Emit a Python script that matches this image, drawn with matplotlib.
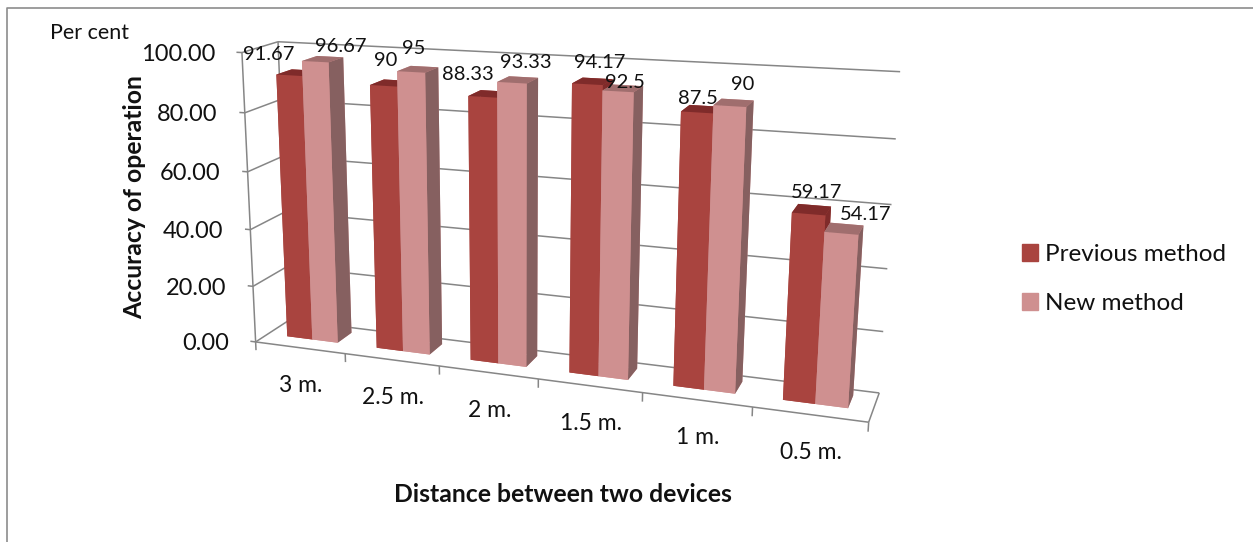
import matplotlib

matplotlib.use("Agg")
import matplotlib.pyplot as plt
import numpy as np
from matplotlib.lines import Line2D
from matplotlib.patches import Patch
from mpl_toolkits.mplot3d.art3d import Line3DCollection

W, H = 1253, 542

categories = ["3 m.", "2.5 m.", "2 m.", "1.5 m.", "1 m.", "0.5 m."]
previous_method = [91.67, 90, 88.33, 94.17, 87.5, 59.17]
new_method = [96.67, 95, 93.33, 92.5, 90, 54.17]
value_ticks = [0, 20, 40, 60, 80, 100]

# where the data labels sit, in pixels (Excel pushed them around by hand)
prev_label_pos = [(269, 55), (386, 61), (468, 74), (600, 63), (698, 98), (817, 192)]
new_label_pos = [(341, 46), (414, 49), (526, 62), (625, 82), (743, 85), (866, 214)]

# colours per bar face: bottom, top, -y, +y, -x, +x
prev_faces = ["#a9443f", "#7f2b2a", "#a9443f", "#a9443f", "#a9443f", "#7f2b2a"]
new_faces = ["#cf9090", "#a06e6e", "#cf9090", "#cf9090", "#cf9090", "#866060"]
grid_color = "#868686"

plt.rcParams["font.family"] = ["Lato", "DejaVu Sans"]

# box corners (category, depth, value) and where they land in the picture
world = np.array(
    [
        (0, 0, 0),
        (6, 0, 0),
        (6, 1, 0),
        (0, 1, 0),
        (0, 0, 100),
        (0, 1, 100),
        (6, 1, 100),
    ],
    dtype=float,
)
screen = np.array(
    [(258, 340), (868, 425), (880, 390), (287, 322), (240, 52), (280, 42), (900, 72)],
    dtype=float,
)


def fit_projection(world, screen):
    rows = []
    for (x, y, z), (u, v) in zip(world, screen):
        rows.append([x, y, z, 1, 0, 0, 0, 0, -u * x, -u * y, -u * z, -u])
        rows.append([0, 0, 0, 0, x, y, z, 1, -v * x, -v * y, -v * z, -v])
    p = np.linalg.svd(np.array(rows))[2][-1].reshape(3, 4)
    if p[2] @ np.array([0, 0, 0, 1]) < 0:
        p = -p
    # third row only has to sort faces: far away means larger z
    return np.array([p[0], p[1], [0, 0, 0, -1.0], p[2]])


M = fit_projection(world, screen)


def to_px(x, y, z):
    u = M @ np.array([x, y, z, 1.0])
    return u[0] / u[3], u[1] / u[3]


def fig_text(px, py, s, **kw):
    fig.text(px / W, 1 - py / H, s, **kw)


fig = plt.figure(figsize=(W / 100, H / 100), dpi=100)
ax = fig.add_axes([0, 0, 1, 1], projection="3d", computed_zorder=False)
ax.set_axis_off()
ax.patch.set_visible(False)
ax.get_proj = lambda: M
ax.apply_aspect = lambda position=None: None
ax.viewLim.intervalx = (0, W)
ax.viewLim.intervaly = (H, 0)

# walls and floor
segments = []
for v in value_ticks:
    segments.append([(0, 1, v), (6, 1, v)])
    segments.append([(0, 0, v), (0, 1, v)])
    segments.append([(-0.06, 0, v), (0, 0, v)])
segments.append([(0, 0, 0), (0, 0, 100)])
segments.append([(0, 1, 0), (0, 1, 100)])
segments.append([(0, 0, 0), (6, 0, 0)])
segments.append([(6, 0, 0), (6, 1, 0)])
for i in range(len(categories) + 1):
    segments.append([(i, 0, -3), (i, 0, 0)])
ax.add_collection3d(Line3DCollection(segments, colors=grid_color, linewidths=1.1, zorder=3))

# bars, left to right so the nearer ones paint over
bar_w = 0.285
for i in range(len(categories)):
    ax.bar3d(i + 0.22, 0.36, 0, bar_w, 0.44, previous_method[i],
             color=prev_faces, shade=False, linewidth=0, zorder=10 + 2 * i)
    ax.bar3d(i + 0.22 + bar_w, 0.36, 0, bar_w, 0.44, new_method[i],
             color=new_faces, shade=False, linewidth=0, zorder=11 + 2 * i)

# value axis and category labels
for v in value_ticks:
    px, py = to_px(0, 0, v)
    fig_text(px - 27, py + 2, f"{v:.2f}", ha="right", va="center", fontsize=17, color="#111111")
for i, c in enumerate(categories):
    px, py = to_px(i + 0.5, 0, 0)
    fig_text(px + 1, py + 38, c, ha="center", va="center", fontsize=16.5, color="#111111")

for vals, positions in ((previous_method, prev_label_pos), (new_method, new_label_pos)):
    for v, (px, py) in zip(vals, positions):
        fig_text(px, py, f"{v:g}", ha="center", va="center", fontsize=14.5, color="#111111", zorder=30)

fig_text(90, 33, "Per cent", ha="center", va="center", fontsize=15.5, color="#111111")
fig_text(135, 197, "Accuracy of operation", ha="center", va="center", rotation=90,
         fontsize=17.8, fontweight="bold", color="#111111")
fig_text(563, 495, "Distance between two devices", ha="center", va="center",
         fontsize=17.8, fontweight="bold", color="#111111")

fig.legend(
    handles=[Patch(color=prev_faces[0], label="Previous method"), Patch(color=new_faces[0], label="New method")],
    loc="center left",
    bbox_to_anchor=(1000 / W, 1 - 279 / H),
    frameon=False,
    fontsize=17.5,
    handlelength=0.65,
    handleheight=0.65,
    handletextpad=0.32,
    labelspacing=1.15,
    labelcolor="#111111",
)

# chart frame, only top and left edges fall inside the crop
fig.add_artist(Line2D([7 / W, 7 / W, 1], [0, 1 - 8 / H, 1 - 8 / H], color="#8c8c8c", lw=1.2))

fig.savefig("out.png", dpi=100)
